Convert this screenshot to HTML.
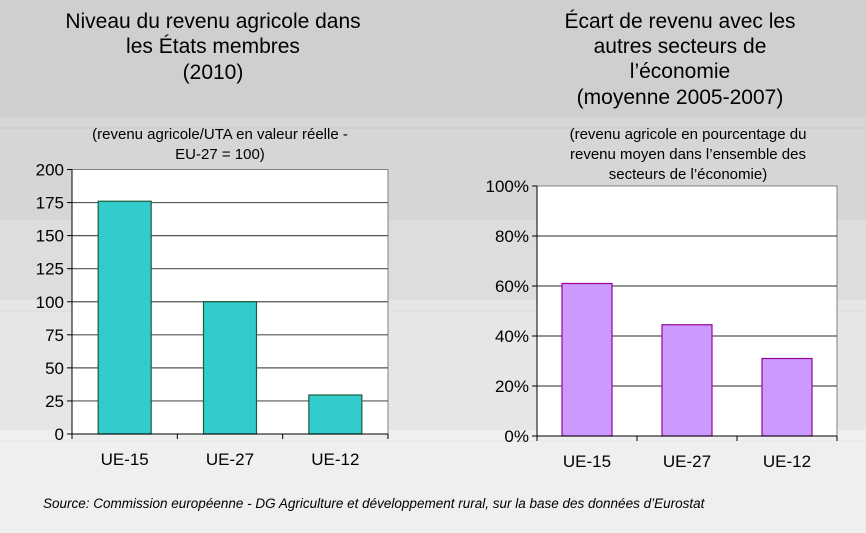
<!DOCTYPE html>
<html><head><meta charset="utf-8"><style>
body{margin:0;width:866px;height:528px;overflow:hidden;font-family:"Liberation Sans",Arial,sans-serif;background:#efefef;}
</style></head><body>
<svg width="866" height="528" xmlns="http://www.w3.org/2000/svg" font-family="Liberation Sans, Arial, sans-serif">
<rect x="0" y="0" width="866" height="117" fill="#cfcfcf"/>
<rect x="0" y="117" width="866" height="103" fill="#d6d6d6"/>
<line x1="0" y1="128" x2="866" y2="128" stroke="#cbcbcb"/>
<rect x="0" y="220" width="866" height="80" fill="#dddddd"/>
<rect x="0" y="300" width="866" height="130" fill="#e6e6e6"/>
<line x1="0" y1="311" x2="866" y2="311" stroke="#dcdcdc"/>
<rect x="0" y="430" width="866" height="98" fill="#efefef"/>
<line x1="0" y1="441" x2="866" y2="441" stroke="#e4e4e4"/>
<g font-size="21" fill="#000" text-anchor="middle">
<text x="213" y="28">Niveau du revenu agricole dans</text>
<text x="213" y="53">les États membres</text>
<text x="213" y="79">(2010)</text>
<text x="680" y="28">Écart de revenu avec les</text>
<text x="680" y="53">autres secteurs de</text>
<text x="680" y="78">l’économie</text>
<text x="680" y="104">(moyenne 2005-2007)</text>
</g>
<g font-size="15" fill="#000" text-anchor="middle">
<text x="220" y="139">(revenu agricole/UTA en valeur réelle -</text>
<text x="220" y="159">EU-27 = 100)</text>
<text x="688" y="139">(revenu agricole en pourcentage du</text>
<text x="688" y="159">revenu moyen dans l’ensemble des</text>
<text x="688" y="179">secteurs de l’économie)</text>
</g>
<g id="c1"></g>
<g id="c2"></g>
<text x="43" y="508" font-size="13.5" font-style="italic" fill="#000">Source: Commission européenne - DG Agriculture et développement rural, sur la base des données d’Eurostat</text>
</svg>
<script>
const categories = ["UE-15","UE-27","UE-12"];
const leftValues = [176, 100, 29.5];
const leftTicks = [0,25,50,75,100,125,150,175,200];
const rightValues = [61, 44.5, 31];
const rightTicks = [0,20,40,60,80,100];
const NS="http://www.w3.org/2000/svg";
function mk(p,tag,a){const e=document.createElementNS(NS,tag);for(const k in a)e.setAttribute(k,a[k]);p.appendChild(e);return e;}
function chart(g,vals,ticks,max,x0,x1,yTop,yBot,fill,stroke,fmt,barW,prefix){
  const y=v=>yBot-(yBot-yTop)*v/max;
  const cw=(x1-x0)/categories.length;
  const bg=mk(g,'rect',{x:x0,y:yTop,width:x1-x0,height:yBot-yTop,fill:'#fff',stroke:'#808080'});
  
  
  ticks.forEach(t=>{
    if(t>0&&t<max){const l=mk(g,'line',{x1:x0,x2:x1,y1:y(t),y2:y(t),stroke:'#555','stroke-width':1.2});
      
      }
    mk(g,'line',{x1:x0-5,x2:x0,y1:y(t),y2:y(t),stroke:'#000'});
    const tx=mk(g,'text',{x:x0-8,y:y(t)+6,'font-size':17,'text-anchor':'end',fill:'#000'});
    tx.textContent=fmt(t);
    
    
  });
  vals.forEach((v,i)=>{
    const cx=x0+cw*(i+0.5);
    const r=mk(g,'rect',{x:cx-barW/2,y:y(v),width:barW,height:yBot-y(v),fill:fill,stroke:stroke,'stroke-width':1.2});
    
    
    const t=mk(g,'text',{x:cx,y:yBot+31,'font-size':17,'text-anchor':'middle',fill:'#000'});
    t.textContent=categories[i];
    
    
  });
  mk(g,'line',{x1:x0,x2:x0,y1:yTop,y2:yBot,stroke:'#000'});
  mk(g,'line',{x1:x0,x2:x1,y1:yBot,y2:yBot,stroke:'#000'});
  for(let i=0;i<=categories.length;i++){const xx=x0+cw*i;mk(g,'line',{x1:xx,x2:xx,y1:yBot,y2:yBot+5,stroke:'#000'});}
}
chart(document.getElementById('c1'),leftValues,leftTicks,200,72,388,169.5,434,'#33cccc','#1a5c3a',t=>String(t),53,'left');
chart(document.getElementById('c2'),rightValues,rightTicks,100,537,837,186,436,'#cc99ff','#990099',t=>t+'%',50,'right');
</script>
</body></html>
